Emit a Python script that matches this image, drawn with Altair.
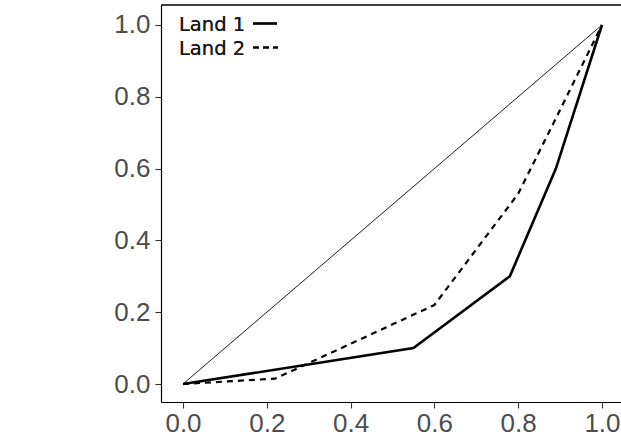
import altair as alt
import pandas as pd

# Data
land1_x = [0.0, 0.55, 0.78, 0.89, 1.0]
land1_y = [0.0, 0.10, 0.30, 0.60, 1.0]
land2_x = [0.0, 0.22, 0.60, 0.80, 0.89, 1.0]
land2_y = [0.0, 0.015, 0.22, 0.53, 0.74, 1.0]
diag_x = [0.0, 1.0]
diag_y = [0.0, 1.0]
ticks = [0.0, 0.2, 0.4, 0.6, 0.8, 1.0]
legend_labels = ["Land 1", "Land 2"]

W, H = 460, 397
xs = alt.Scale(domain=[-0.0525, 1.0454], nice=False, zero=False)
ys = alt.Scale(domain=[-0.0501, 1.0557], nice=False, zero=False)

axis_common = dict(
    values=ticks, format=".1f", grid=False, title=None,
    domainColor="black", domainWidth=1.2,
    tickColor="#333333", tickSize=6, tickWidth=1.1,
    labelFont="Liberation Sans", labelFontSize=26, labelColor="#4d4d4d",
)

df1 = pd.DataFrame({"x": land1_x, "y": land1_y})
df2 = pd.DataFrame({"x": land2_x, "y": land2_y})
dfd = pd.DataFrame({"x": diag_x, "y": diag_y})

diag = alt.Chart(dfd).mark_line(color="black", strokeWidth=0.9).encode(
    x=alt.X("x:Q", scale=xs, axis=alt.Axis(labelPadding=2, **axis_common)),
    y=alt.Y("y:Q", scale=ys, axis=alt.Axis(labelPadding=5, **axis_common)),
)
l1 = alt.Chart(df1).mark_line(color="black", strokeWidth=2.6).encode(
    x=alt.X("x:Q", scale=xs), y=alt.Y("y:Q", scale=ys)
)
l2 = alt.Chart(df2).mark_line(color="black", strokeWidth=2.2, strokeDash=[6, 5]).encode(
    x=alt.X("x:Q", scale=xs), y=alt.Y("y:Q", scale=ys)
)

top_border = alt.Chart(dfd).mark_rule(color="black", strokeWidth=1.2).encode(
    x=alt.value(0), x2=alt.value(W), y=alt.value(0)
)

leg_font = dict(font="DejaVu Sans", fontSize=19.5, color="#1a1a1a", align="left", baseline="middle")
t1 = alt.Chart(dfd).mark_text(text=legend_labels[0], **leg_font).encode(
    x=alt.value(18), y=alt.value(19.5)
)
t2 = alt.Chart(dfd).mark_text(text=legend_labels[1], **leg_font).encode(
    x=alt.value(18), y=alt.value(43.5)
)
r1 = alt.Chart(dfd).mark_rule(color="black", strokeWidth=2.2).encode(
    x=alt.value(92), x2=alt.value(116), y=alt.value(18.5)
)
r2 = alt.Chart(dfd).mark_rule(color="black", strokeWidth=2.2, strokeDash=[6, 4]).encode(
    x=alt.value(92), x2=alt.value(117), y=alt.value(42.5)
)

chart = alt.layer(diag, l1, l2, top_border, t1, t2, r1, r2).properties(
    width=W, height=H,
    autosize=alt.AutoSizeParams(type="none"),
    padding={"left": 161, "top": 5, "right": 0, "bottom": 36},
    background="white",
).configure_view(stroke=None)

chart.save("out.html", embed_options={"renderer": "svg", "actions": False})
